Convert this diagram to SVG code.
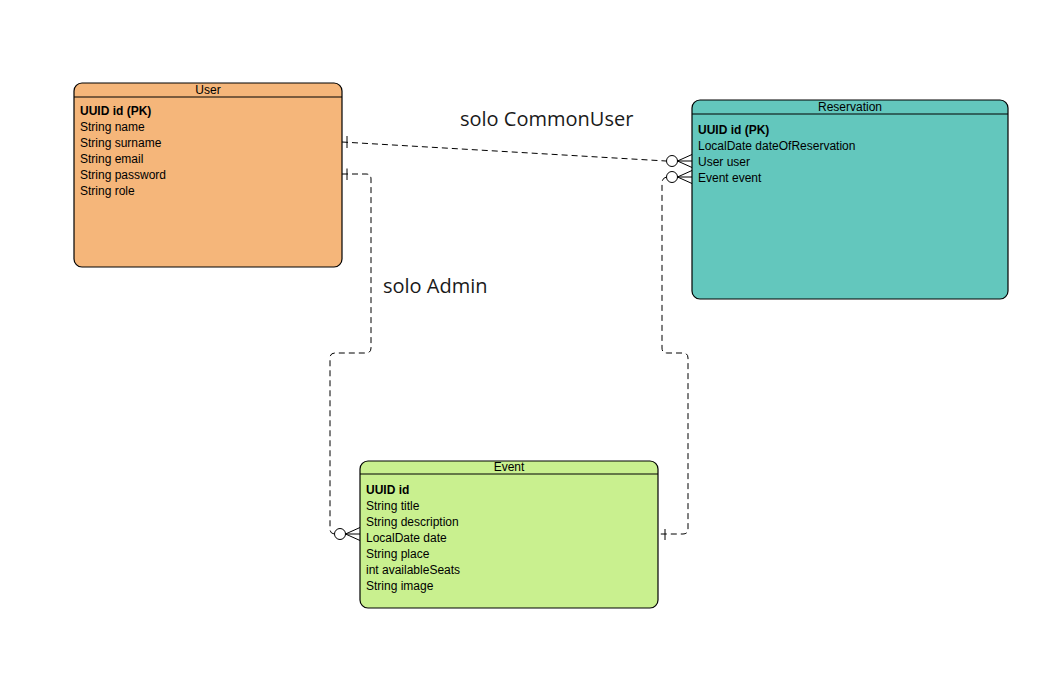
<svg xmlns="http://www.w3.org/2000/svg" width="1043" height="696" viewBox="0 0 1043 696">
<style>
.box{stroke:#000;stroke-width:1.2}
.hdr{stroke:#000;stroke-width:1.2}
.t{font-family:"Liberation Sans",Arial,sans-serif;font-size:12px;fill:#000}
.b{font-weight:bold}
.title{text-anchor:middle}
.c{fill:none;stroke:#000;stroke-width:1;stroke-dasharray:6 4}
.m{fill:none;stroke:#000;stroke-width:1}
.circ{fill:#fff;stroke:#000;stroke-width:1}
.lbl{font-family:"Open Sans","Noto Sans",sans-serif;font-size:20px;fill:#1a1a1a}
</style>
<rect x="0" y="0" width="1043" height="696" fill="#fff"/>
<g id="connectors">
  <path class="c" d="M342 142 L666 161"/>
  <path class="m" d="M347 136 V148"/>
  <circle class="circ" cx="672" cy="161" r="5.5"/>
  <path class="m" d="M677.5 161 L692 154.5 M677.5 161 L692 167.5 M677.5 161 H692"/>

  <path class="c" d="M342 174 H366 Q371 174 371 179 V348 Q371 353 366 353 H335 Q330 353 330 358 V529 Q330 534 335 534"/>
  <path class="m" d="M347 168.5 V180"/>
  <circle class="circ" cx="340" cy="534" r="5.5"/>
  <path class="m" d="M345.5 534 L360 527.5 M345.5 534 L360 540.5 M345.5 534 H360"/>

  <path class="c" d="M666.5 177 Q662 178 662 183 V348 Q662 353 667 353 H683 Q688 353 688 358 V529 Q688 534 683 534 H658"/>
  <circle class="circ" cx="672" cy="177" r="5.5"/>
  <path class="m" d="M677.5 177 L692 170.5 M677.5 177 L692 183.5 M677.5 177 H692"/>
  <path class="m" d="M665 529 V540"/>

  <text class="lbl" x="460" y="126">solo CommonUser</text>
  <text class="lbl" x="383" y="293">solo Admin</text>
</g>
<g id="user">
  <rect class="box" x="74" y="83" width="268" height="184" rx="8" fill="#F5B67A"/>
  <line class="hdr" x1="74" y1="97" x2="342" y2="97"/>
  <text class="t title" x="208" y="94">User</text>
  <text class="t b" x="80" y="115">UUID id (PK)</text>
  <text class="t" x="80" y="131">String name</text>
  <text class="t" x="80" y="147">String surname</text>
  <text class="t" x="80" y="163">String email</text>
  <text class="t" x="80" y="179">String password</text>
  <text class="t" x="80" y="195">String role</text>
</g>
<g id="reservation">
  <rect class="box" x="692" y="100" width="316" height="199" rx="8" fill="#63C7BD"/>
  <line class="hdr" x1="692" y1="114" x2="1008" y2="114"/>
  <text class="t title" x="850" y="111">Reservation</text>
  <text class="t b" x="698" y="134">UUID id (PK)</text>
  <text class="t" x="698" y="150">LocalDate dateOfReservation</text>
  <text class="t" x="698" y="166">User user</text>
  <text class="t" x="698" y="182">Event event</text>
</g>
<g id="event">
  <rect class="box" x="360" y="461" width="298" height="147" rx="8" fill="#C9F08F"/>
  <line class="hdr" x1="360" y1="474" x2="658" y2="474"/>
  <text class="t title" x="509" y="471">Event</text>
  <text class="t b" x="366" y="494">UUID id</text>
  <text class="t" x="366" y="510">String title</text>
  <text class="t" x="366" y="526">String description</text>
  <text class="t" x="366" y="542">LocalDate date</text>
  <text class="t" x="366" y="558">String place</text>
  <text class="t" x="366" y="574">int availableSeats</text>
  <text class="t" x="366" y="590">String image</text>
</g>
</svg>
